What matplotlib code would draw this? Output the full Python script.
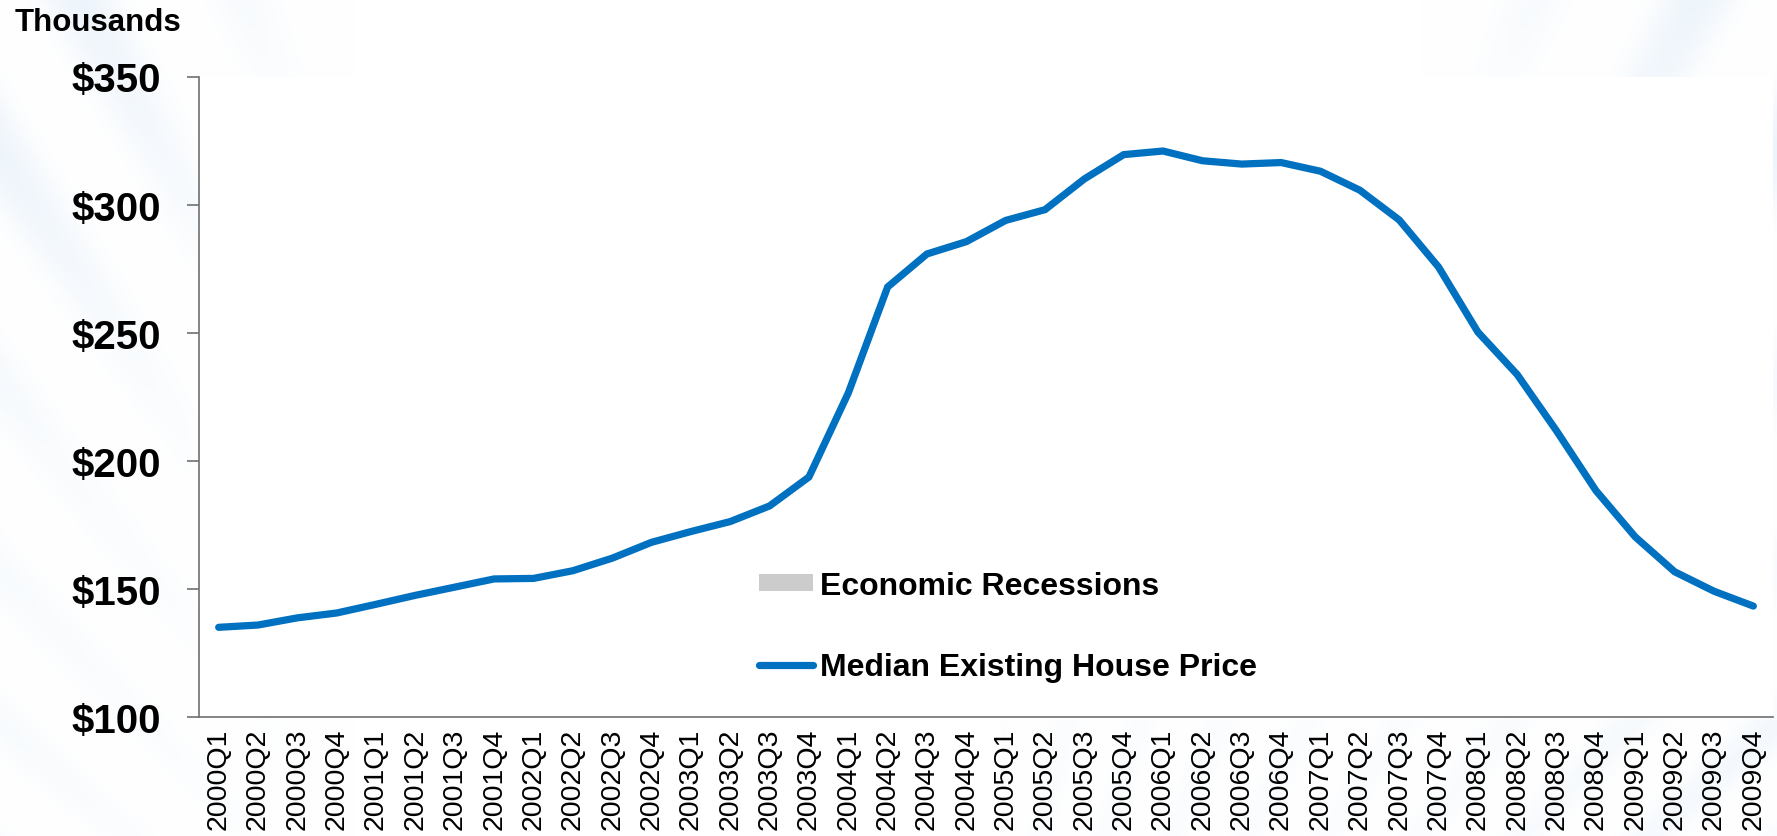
import numpy as np
import matplotlib
matplotlib.use("Agg")
import matplotlib.pyplot as plt
from matplotlib.lines import Line2D
from matplotlib.patches import Patch

# Median existing house price, quarterly, in thousands of dollars
quarters = [f"{y}Q{q}" for y in range(2000, 2010) for q in range(1, 5)]
median_price = [
    134.9, 135.8, 138.6, 140.5,   # 2000
    143.9, 147.4, 150.6, 153.8,   # 2001
    154.0, 157.0, 161.9, 168.1,   # 2002
    172.3, 176.2, 182.3, 193.6,   # 2003
    226.4, 267.8, 280.7, 285.5,   # 2004
    293.8, 298.0, 310.0, 319.5,   # 2005
    320.9, 317.1, 315.8, 316.4,   # 2006
    313.0, 305.6, 294.0, 275.6,   # 2007
    250.2, 233.6, 211.6, 188.3,   # 2008
    170.2, 156.6, 149.0, 143.2,   # 2009
]
y_ticks = [100, 150, 200, 250, 300, 350]
y_tick_labels = [f"${v}" for v in y_ticks]
legend_labels = ["Economic Recessions", "Median Existing House Price"]

W, H, DPI = 1777, 837, 100
LINE_BLUE = "#0070C0"
SPINE_GREY = "#707070"

plt.rcParams["font.family"] = ["Liberation Sans", "DejaVu Sans"]

fig = plt.figure(figsize=(W / DPI, H / DPI), dpi=DPI, facecolor="white")

# Faint sunburst backdrop of the slide template
bg = fig.add_axes([0, 0, 1, 1], zorder=-10)
yy, xx = np.mgrid[0:H, 0:W].astype(float)
cx, cy = 888.0, 1500.0
theta = np.arctan2(cy - yy, xx - cx)
rays = 0.5 + 0.5 * np.cos(theta * 70.0)
rays = rays ** 2
edge = np.clip((np.abs(xx - cx) / cx - 0.6) / 0.4, 0, 1)
top = np.clip(1.0 - yy / 450.0, 0, 1)
weight = np.clip(edge * (0.3 + 0.7 * top) + 0.2 * (yy > 720) * (xx > 1000), 0, 1)
tint = np.array([205, 225, 245]) / 255.0
mix = (0.45 * rays * weight)[..., None]
img = (1 - mix) * 1.0 + mix * tint
bg.imshow(img, extent=[0, W, H, 0], aspect="auto", interpolation="bilinear")
bg.set_axis_off()

left, right = 199 / W, 1773 / W
bottom, topy = 1 - 717.7 / H, 1 - 77.5 / H
ax = fig.add_axes([left, bottom, right - left, topy - bottom], facecolor="white")

x = np.arange(len(quarters))
ax.plot(x, median_price, color=LINE_BLUE, lw=5.2, solid_capstyle="round",
        solid_joinstyle="miter", zorder=3)

ax.set_xlim(-0.5, len(quarters) - 0.5)
ax.set_ylim(100, 350)
ax.set_yticks(y_ticks)
ax.set_yticklabels(y_tick_labels, fontsize=29, fontweight="bold")
ax.set_xticks(x)
ax.set_xticklabels(quarters, rotation=90, fontsize=20.5, va="top", ha="center")

for s in ("top", "right"):
    ax.spines[s].set_visible(False)
for s in ("left", "bottom"):
    ax.spines[s].set_color(SPINE_GREY)
    ax.spines[s].set_linewidth(1.2)
ax.tick_params(axis="y", direction="out", length=8.6, width=1.2,
               color=SPINE_GREY, pad=18.5)
ax.tick_params(axis="x", length=0, pad=8)

fig.text(15 / W, 1 - 8 / H, "Thousands", fontsize=22.5, fontweight="bold",
         ha="left", va="top")

handles = [
    Patch(facecolor="#CCCCCC", edgecolor="none"),
    Line2D([0], [0], color=LINE_BLUE, lw=5.2, solid_capstyle="round"),
]
leg = ax.legend(handles, legend_labels, loc="upper left",
                bbox_to_anchor=(759 / W, 1 - 572 / H), bbox_transform=fig.transFigure,
                frameon=False, borderpad=0, borderaxespad=0,
                handlelength=1.7, handleheight=0.47, handletextpad=0.2,
                labelspacing=1.6,
                prop={"size": 23, "weight": "bold"})

fig.savefig("out.png", dpi=DPI, facecolor="white")
